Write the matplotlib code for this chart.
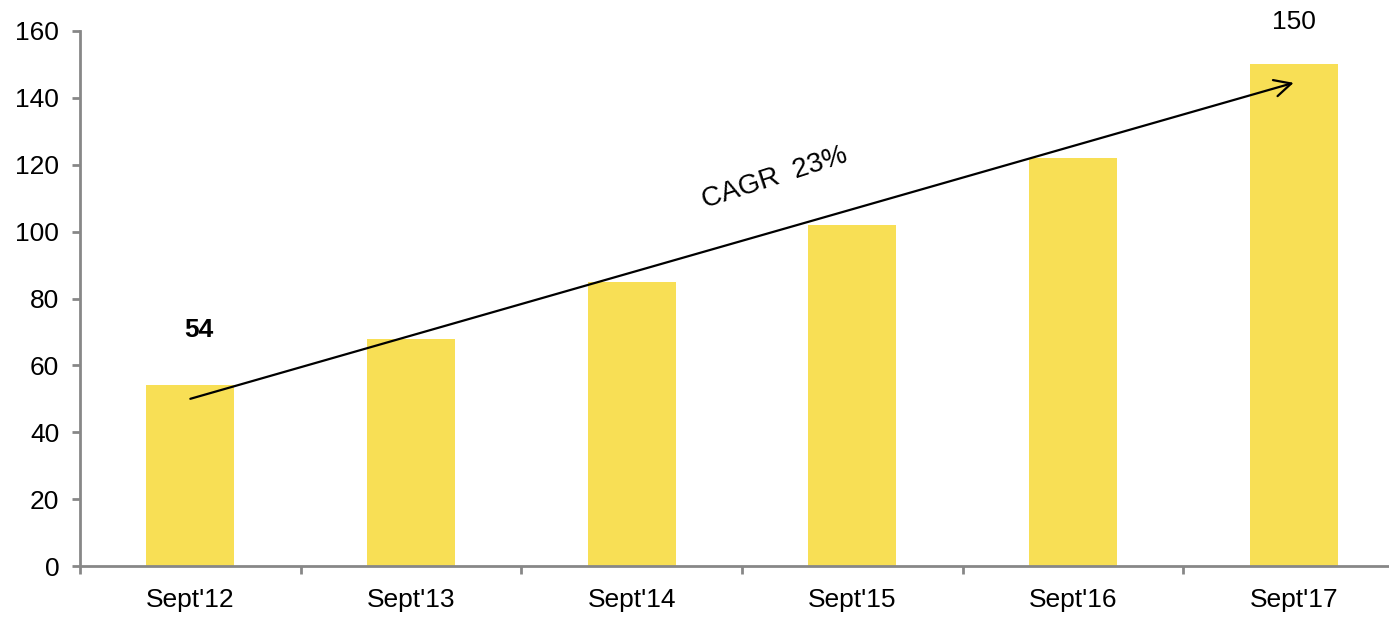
import matplotlib.pyplot as plt

plt.rcParams['font.family'] = ['Liberation Sans', 'DejaVu Sans']

# data
periods = ["Sept'12", "Sept'13", "Sept'14", "Sept'15", "Sept'16", "Sept'17"]
values = [54, 68, 85, 102, 122, 150]
cagr_label = "CAGR  23%"
trend_start = 50     # arrow start (value at first bar)
trend_end = 144.5    # arrow end (value at last bar)

bar_color = '#F8DF55'
axis_color = '#878787'

fig = plt.figure(figsize=(13.89, 6.18), dpi=100)
ax = fig.add_axes([80 / 1389, 52 / 618, 1324 / 1389, 535 / 618])

x = list(range(len(periods)))
ax.bar(x, values, width=0.4, color=bar_color, zorder=2)

ax.set_xlim(-0.5, len(periods) - 0.5)
ax.set_ylim(0, 160)
ax.set_yticks(range(0, 161, 20))

# ticks at category boundaries, labels at category centres
ax.set_xticks([i - 0.5 for i in range(len(periods))])
ax.set_xticklabels([])
ax.set_xticks(x, minor=True)
ax.set_xticklabels(periods, minor=True)

ax.tick_params(axis='y', direction='out', length=6, width=2, color=axis_color,
               labelsize=19, pad=9)
ax.tick_params(axis='x', which='major', direction='out', length=6, width=2,
               color=axis_color)
ax.tick_params(axis='x', which='minor', length=0, labelsize=19, pad=16)

for side in ['top', 'right']:
    ax.spines[side].set_visible(False)
for side in ['left', 'bottom']:
    ax.spines[side].set_color(axis_color)
    ax.spines[side].set_linewidth(2)

# first and last value labels
ax.text(x[0] + 0.04, values[0] + 16.5, str(values[0]), ha='center', va='center',
        fontsize=19, fontweight='bold')
ax.text(x[-1], values[-1] + 12.8, str(values[-1]), ha='center', va='center',
        fontsize=19, clip_on=False)

# CAGR trend arrow
ax.annotate('', xy=(x[-1], trend_end), xytext=(x[0], trend_start),
            arrowprops=dict(arrowstyle='->', color='black', lw=1.6,
                            mutation_scale=30, shrinkA=0, shrinkB=0),
            zorder=3)
ax.text(2.65, 116, cagr_label, ha='center', va='center', fontsize=20,
        rotation=18, rotation_mode='anchor')

fig.savefig('out.png', dpi=100)
